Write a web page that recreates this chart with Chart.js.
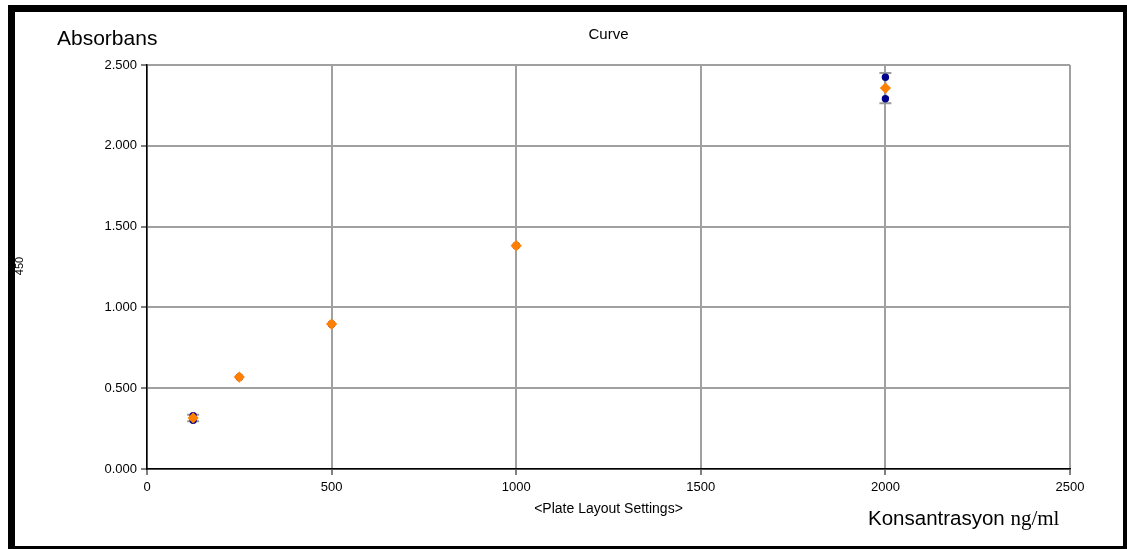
<!DOCTYPE html>
<html>
<head>
<meta charset="utf-8">
<script src="https://cdn.jsdelivr.net/npm/chart.js@4/dist/chart.umd.min.js"></script>
<style>
  html, body { margin: 0; padding: 0; background: #ffffff; }
  #wrap { position: relative; width: 1127px; height: 549px; }
  canvas { display: block; }
</style>
</head>
<body>
<div id="wrap"><canvas id="c" width="1127" height="549"></canvas></div>
<script>
// ---- data ----
const concentrations = [125, 250, 500, 1000, 2000];
const replicateA = [0.330, 0.570, 0.898, 1.383, 2.424];
const replicateB = [0.302, 0.568, 0.896, 1.381, 2.291];
const means = [0.316, 0.569, 0.897, 1.382, 2.357];
const stdDevs = [0.020, 0.000, 0.000, 0.000, 0.094];
const xTickLabels = ['0', '500', '1000', '1500', '2000', '2500'];
const yTickLabels = ['0.000', '0.500', '1.000', '1.500', '2.000', '2.500'];

const replicatePoints = [];
concentrations.forEach((c, i) => {
  replicatePoints.push({ x: c, y: replicateA[i] });
  replicatePoints.push({ x: c, y: replicateB[i] });
});
const meanPoints = concentrations.map((c, i) => ({ x: c, y: means[i], sd: stdDevs[i] }));

const errorBarPlugin = {
  id: 'errorBars',
  beforeDatasetsDraw(chart) {
    const ctx = chart.ctx;
    const xs = chart.scales.x, ys = chart.scales.y;
    ctx.save();
    ctx.strokeStyle = '#9a9a9a';
    ctx.lineWidth = 2;
    meanPoints.forEach(p => {
      if (!p.sd) return;
      const px = xs.getPixelForValue(p.x);
      const top = ys.getPixelForValue(p.y + p.sd);
      const bot = ys.getPixelForValue(p.y - p.sd);
      ctx.beginPath();
      ctx.moveTo(px, top); ctx.lineTo(px, bot);
      ctx.moveTo(px - 6, top); ctx.lineTo(px + 6, top);
      ctx.moveTo(px - 6, bot); ctx.lineTo(px + 6, bot);
      ctx.stroke();
    });
    ctx.restore();
  }
};

const textPlugin = {
  id: 'texts',
  afterDraw(chart) {
    const ctx = chart.ctx;
    const ca = chart.chartArea;
    const cx = (ca.left + ca.right) / 2;
    ctx.save();
    ctx.fillStyle = '#000';
    ctx.textBaseline = 'alphabetic';
    ctx.textAlign = 'center';
    ctx.font = '15px "Liberation Sans", Arial, sans-serif';
    ctx.fillText('Curve', cx, 39);
    ctx.font = '14px "Liberation Sans", Arial, sans-serif';
    ctx.fillText('<Plate Layout Settings>', cx, 513);
    ctx.textAlign = 'left';
    ctx.font = '21px "Liberation Sans", Arial, sans-serif';
    ctx.fillText('Absorbans', 57, 45);
    ctx.font = '20.5px "Liberation Sans", Arial, sans-serif';
    const w = ctx.measureText('Konsantrasyon ').width;
    ctx.fillText('Konsantrasyon ', 868, 525);
    ctx.font = '21px "Liberation Serif", "Times New Roman", serif';
    ctx.fillText('ng/ml', 868 + w, 525);
    ctx.save();
    ctx.translate(23, 266);
    ctx.rotate(-Math.PI / 2);
    ctx.textAlign = 'center';
    ctx.font = '11px "Liberation Sans Narrow", "Liberation Sans", Arial, sans-serif';
    ctx.fillText('450', 0, 0);
    ctx.restore();
    // frame
    ctx.fillStyle = '#000';
    ctx.fillRect(8, 5, 1119, 7);
    ctx.fillRect(8, 5, 7, 544);
    ctx.fillRect(1123, 5, 4, 544);
    ctx.fillRect(8, 546, 1119, 3);
    ctx.restore();
  }
};

const tickFont = { family: '"Liberation Sans", Arial, sans-serif', size: 13 };

new Chart(document.getElementById('c'), {
  type: 'scatter',
  data: {
    datasets: [
      {
        label: 'Replicates',
        data: replicatePoints,
        pointStyle: 'circle',
        radius: 3.7,
        backgroundColor: '#00008b',
        borderColor: '#00008b',
        borderWidth: 0,
        order: 2
      },
      {
        label: 'Mean',
        data: meanPoints,
        pointStyle: 'rectRot',
        radius: 5.6,
        backgroundColor: '#ff8000',
        borderColor: '#ff8000',
        borderWidth: 0,
        order: 1
      }
    ]
  },
  options: {
    responsive: false,
    animation: false,
    devicePixelRatio: 1,
    layout: { padding: { top: 65, right: 57, left: 0, bottom: 0 } },
    plugins: { legend: { display: false }, title: { display: false }, tooltip: { enabled: false } },
    scales: {
      x: {
        type: 'linear',
        min: 0, max: 2500,
        afterFit(s) { s.height = 80; },
        ticks: {
          stepSize: 500,
          padding: 5,
          color: '#000',
          font: tickFont,
          maxRotation: 0,
          callback: (v) => xTickLabels[Math.round(v / 500)]
        },
        grid: { color: '#a0a0a0', lineWidth: 2, tickColor: '#000', tickLength: 6, tickWidth: 1 },
        border: { color: '#000', width: 1.5 }
      },
      y: {
        type: 'linear',
        min: 0, max: 2.5,
        afterFit(s) { s.width = 147; },
        ticks: {
          stepSize: 0.5,
          padding: 4,
          color: '#000',
          font: tickFont,
          callback: (v) => yTickLabels[Math.round(v / 0.5)]
        },
        grid: { color: '#a0a0a0', lineWidth: 2, tickColor: '#000', tickLength: 6, tickWidth: 1 },
        border: { color: '#000', width: 1.5 }
      }
    }
  },
  plugins: [errorBarPlugin, textPlugin]
});
</script>
</body>
</html>
